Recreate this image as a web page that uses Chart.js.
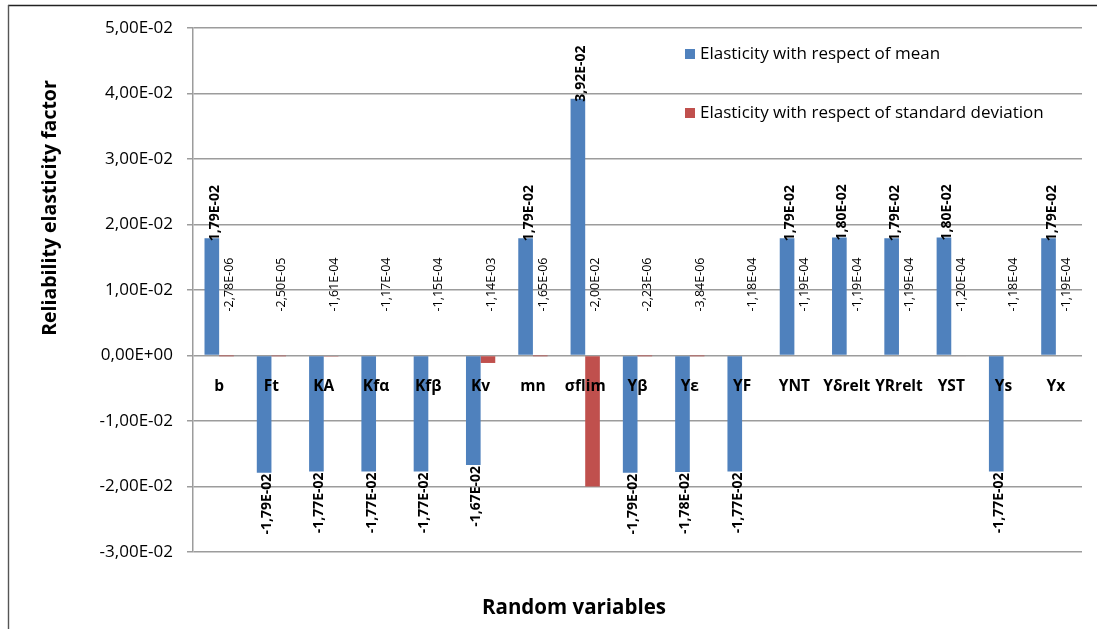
<!DOCTYPE html>
<html><head><meta charset="utf-8">
<script src="https://cdn.jsdelivr.net/npm/chart.js@4.4.1/dist/chart.umd.min.js"></script>
<style>html,body{margin:0;padding:0;background:#fff;} #wrap{width:1097px;height:629px;position:relative;}</style>
</head><body><div id="wrap"><canvas id="c" width="1097" height="629"></canvas></div>
<script>
const categories = ['b','Ft','KA','Kfα','Kfβ','Kv','mn','σflim','Yβ','Yε','YF','YNT','Yδrelt','YRrelt','YST','Ys','Yx'];
const meanElasticity = [1.79e-2, -1.79e-2, -1.77e-2, -1.77e-2, -1.77e-2, -1.67e-2, 1.79e-2, 3.92e-2, -1.79e-2, -1.78e-2, -1.77e-2, 1.79e-2, 1.80e-2, 1.79e-2, 1.80e-2, -1.77e-2, 1.79e-2];
const sdElasticity = [-2.78e-6, -2.50e-5, -1.61e-4, -1.17e-4, -1.15e-4, -1.14e-3, -1.65e-6, -2.00e-2, -2.23e-6, -3.84e-6, -1.18e-4, -1.19e-4, -1.19e-4, -1.19e-4, -1.20e-4, -1.18e-4, -1.19e-4];
const seriesNames = ['Elasticity with respect of mean', 'Elasticity with respect of standard deviation'];
const seriesColors = ['#4F81BD', '#C0504D'];
const yMin = -0.03, yMax = 0.05, yStep = 0.01;
const yTitle = 'Reliability elasticity factor';
const xTitle = 'Random variables';

const FONT = "'Open Sans', 'Liberation Sans', sans-serif";
Chart.defaults.font.family = FONT;
Chart.defaults.color = '#000';

function sci(v) {
  if (Math.abs(v) < 1e-12) return '0,00E+00';
  const s = v.toExponential(2);
  const parts = s.split('e');
  const en = parseInt(parts[1], 10);
  const es = (en < 0 ? '-' : '+') + String(Math.abs(en)).padStart(2, '0');
  return parts[0].replace('.', ',') + 'E' + es;
}

const framePlugin = {
  id: 'frame',
  beforeDraw(chart) {
    const ctx = chart.ctx;
    ctx.save();
    ctx.fillStyle = '#fff';
    ctx.fillRect(0, 0, chart.width, chart.height);
    ctx.strokeStyle = '#222';
    ctx.lineWidth = 1.6;
    ctx.beginPath(); ctx.moveTo(8, 5.5); ctx.lineTo(chart.width, 5.5); ctx.stroke();
    ctx.strokeStyle = '#555';
    ctx.lineWidth = 1.4;
    ctx.beginPath(); ctx.moveTo(8.5, 5); ctx.lineTo(8.5, chart.height); ctx.stroke();
    ctx.restore();
  },
  afterDraw(chart) {
    const ctx = chart.ctx;
    ctx.save();
    ctx.fillStyle = '#000';
    ctx.font = "bold 19.5px " + FONT;
    ctx.textAlign = 'center';
    ctx.textBaseline = 'middle';
    ctx.translate(50, 208);
    ctx.rotate(-Math.PI / 2);
    ctx.fillText(yTitle, 0, 0);
    ctx.restore();
    ctx.save();
    ctx.fillStyle = '#000';
    ctx.font = "bold 20.5px " + FONT;
    ctx.textAlign = 'center';
    ctx.textBaseline = 'middle';
    ctx.fillText(xTitle, 574, 608);
    ctx.font = "17px " + FONT;
    ctx.textAlign = 'left';
    const ly = [54, 113];
    chart.data.datasets.forEach((ds, i) => {
      ctx.fillStyle = ds.backgroundColor;
      ctx.fillRect(685, ly[i] - 5, 10, 10);
      ctx.fillStyle = '#000';
      ctx.fillText(ds.label, 700, ly[i]);
    });
    ctx.restore();
  }
};

const labelPlugin = {
  id: 'barLabels',
  afterDatasetsDraw(chart) {
    const ctx = chart.ctx;
    const zero = chart.scales.y.getPixelForValue(0);
    chart.data.datasets.forEach((ds, di) => {
      const meta = chart.getDatasetMeta(di);
      meta.data.forEach((bar, i) => {
        const v = ds.data[i];
        const txt = sci(v);
        ctx.save();
        ctx.fillStyle = '#000';
        ctx.textBaseline = 'middle';
        let ay, align;
        if (di === 0) {
          ctx.font = "bold 14px " + FONT;
          if (v >= 0) { ay = bar.y + 3; align = 'left'; }
          else { ay = bar.y + 1; align = 'right'; }
        } else {
          ctx.font = "12.5px " + FONT;
          ay = zero - 44; align = 'left';
        }
        ctx.translate(bar.x + 3, ay);
        ctx.rotate(-Math.PI / 2);
        ctx.textAlign = align;
        ctx.fillText(txt, 0, 0);
        ctx.restore();
      });
    });
  }
};

new Chart(document.getElementById('c'), {
  type: 'bar',
  data: {
    labels: categories,
    datasets: [
      { label: seriesNames[0], data: meanElasticity, backgroundColor: seriesColors[0], borderWidth: 0 },
      { label: seriesNames[1], data: sdElasticity, backgroundColor: seriesColors[1], borderWidth: 0 }
    ]
  },
  options: {
    responsive: false,
    animation: false,
    layout: { padding: { left: 0, right: 15, top: 28, bottom: 77 } },
    datasets: { bar: { categoryPercentage: 0.56, barPercentage: 1 } },
    plugins: { legend: { display: false }, tooltip: { enabled: false }, title: { display: false } },
    scales: {
      x: {
        position: { y: 0 },
        grid: { display: false, drawTicks: false },
        border: { display: false },
        ticks: { z: 1, font: { weight: 'bold', size: 15.5 }, color: '#000', padding: 22, maxRotation: 0, autoSkip: false }
      },
      y: {
        min: yMin, max: yMax,
        afterFit(scale) { scale.width = 193; },
        grid: { color: '#9c9c9c', lineWidth: 1.5, tickLength: 6, drawTicks: true },
        border: { color: '#9c9c9c', width: 1.5 },
        ticks: { stepSize: yStep, padding: 14, font: { size: 17 }, color: '#000', callback: (v) => sci(v) }
      }
    }
  },
  plugins: [framePlugin, labelPlugin]
});
</script></body></html>
